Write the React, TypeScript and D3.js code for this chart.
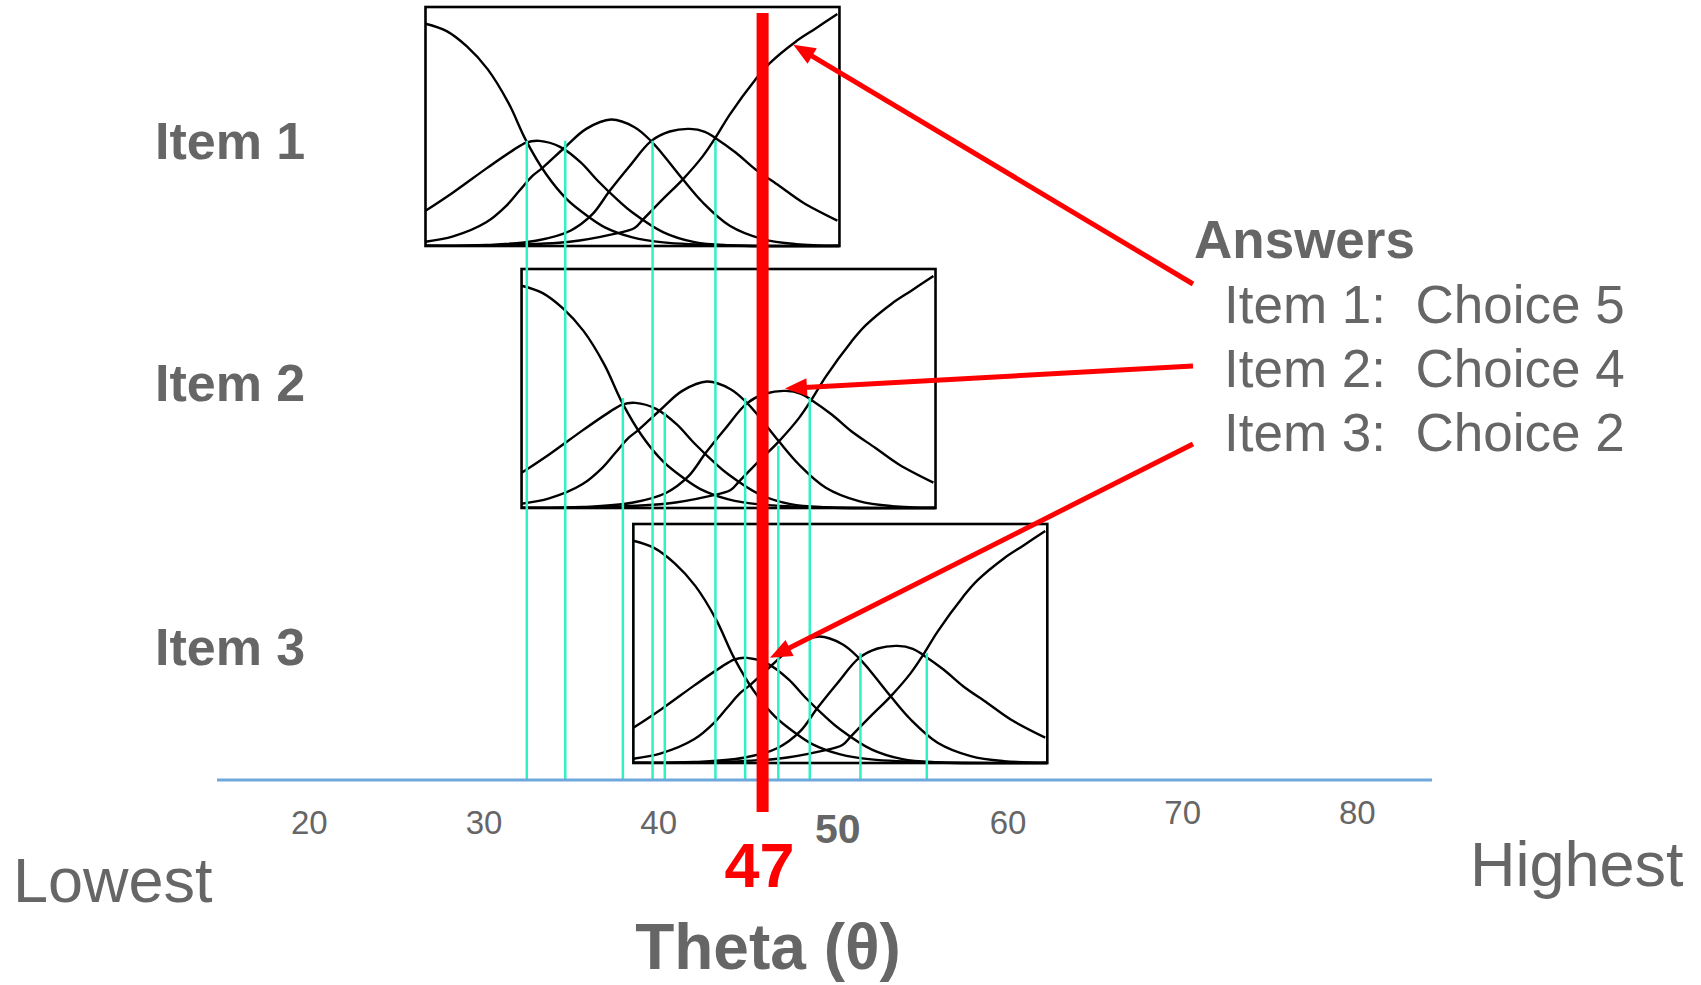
import React from 'react';
import * as d3 from 'd3';

// theta axis
const thetaTicks = [20, 30, 40, 50, 60, 70, 80];
const boldTick = 50;
const thetaHat = 47;

// the three items, and the theta range each little curve panel covers
const itemNames = ['Item 1', 'Item 2', 'Item 3'];
const itemThetaStart = [27.7, 33.2, 39.6];
const itemThetaEnd = [51.4, 56.9, 63.3];

// category response curves inside a panel: [local theta (-3..3), probability]
// (the three panels show the same set of curves)
const choice1 = [[-3, 0.93], [-2.7, 0.9], [-2.4, 0.835], [-2.1, 0.74], [-1.8, 0.6], [-1.54, 0.44], [-1.25, 0.3], [-0.95, 0.195], [-0.65, 0.125], [-0.4, 0.078], [0, 0.036], [0.45, 0.015], [1.4, 0.002], [3, 0]];
const choice2 = [[-3, 0.147], [-2.6, 0.224], [-2.1, 0.328], [-1.75, 0.397], [-1.54, 0.433], [-1.35, 0.44], [-1.05, 0.415], [-0.75, 0.35], [-0.5, 0.272], [-0.2, 0.189], [0, 0.14], [0.45, 0.057], [0.9, 0.016], [1.4, 0.003], [3, 0]];
const choice3 = [[-3, 0.018], [-2.6, 0.04], [-2.12, 0.099], [-1.83, 0.168], [-1.64, 0.231], [-1.45, 0.293], [-1.3, 0.328], [-0.99, 0.41], [-0.67, 0.49], [-0.31, 0.529], [0.03, 0.497], [0.27, 0.439], [0.44, 0.383], [0.73, 0.279], [1.02, 0.182], [1.41, 0.085], [1.89, 0.029], [2.37, 0.008], [3, 0.001]];
const choice4 = [[-3, 0.001], [-2.12, 0.004], [-1.4, 0.022], [-0.9, 0.064], [-0.58, 0.133], [-0.33, 0.231], [-0.04, 0.335], [0.27, 0.439], [0.54, 0.479], [0.83, 0.49], [1.05, 0.478], [1.2, 0.452], [1.5, 0.39], [1.78, 0.321], [2.13, 0.251], [2.47, 0.182], [2.97, 0.106]];
const choice5 = [[-3, 0.001], [-2.12, 0.002], [-0.91, 0.018], [-0.28, 0.05], [0.03, 0.075], [0.15, 0.11], [0.44, 0.196], [0.73, 0.279], [1.02, 0.376], [1.2, 0.452], [1.41, 0.55], [1.78, 0.696], [1.99, 0.765], [2.37, 0.856], [2.66, 0.911], [2.97, 0.971]];
const choiceCurves = [choice1, choice2, choice3, choice4, choice5];

// cut points (cyan lines) in theta, with the probability where each one starts
const item1Cuts = [33.5, 35.7, 40.7, 44.3];
const item1CutTops = [0.44, 0.44, 0.44, 0.44];
const item2Cuts = [39.0, 41.4, 46.0, 47.9, 49.7];
const item2CutTops = [0.46, 0.4, 0.46, 0.26, 0.46];
const item3Cuts = [52.6, 56.4];
const item3CutTops = [0.46, 0.46];

// answers
const answerChoices = [5, 4, 2];
const arrowTipTheta = [48.76, 48.28, 47.42];
const arrowTipP = [0.842, 0.5, 0.44];

const FONT = 'Liberation Sans, Arial, Helvetica, sans-serif';
const GREY = '#666666';

export default function App() {
  const width = 1701;
  const height = 985;
  const axisY = 780;
  const panelTop = [7, 269, 524];
  const panelH = 239;
  const labelY = [159, 401, 665];
  const arrowStartX = 1193;
  const arrowStartY = [284, 366, 444];

  const x = d3.scaleLinear().domain([20, 80]).range([291, 1339]);

  const panels = itemNames.map((name, i) => {
    const px = d3.scaleLinear().domain([-3, 3]).range([x(itemThetaStart[i]), x(itemThetaEnd[i])]);
    const py = d3.scaleLinear().domain([0, 1]).range([panelTop[i] + panelH, panelTop[i]]);
    return { name, px, py };
  });

  const cuts = [
    [item1Cuts, item1CutTops],
    [item2Cuts, item2CutTops],
    [item3Cuts, item3CutTops],
  ];

  const arrows = answerChoices.map((c, i) => {
    const p = panels[i];
    const tx = x(arrowTipTheta[i]);
    const ty = p.py(arrowTipP[i]);
    const sx = arrowStartX;
    const sy = arrowStartY[i];
    const len = Math.hypot(tx - sx, ty - sy);
    const dx = (tx - sx) / len;
    const dy = (ty - sy) / len;
    const L = 22;
    const hw = 9;
    const bx = tx - dx * L;
    const by = ty - dy * L;
    const head = [
      [tx, ty],
      [bx - dy * hw, by + dx * hw],
      [bx + dy * hw, by - dx * hw],
    ];
    return { sx, sy, ex: bx + dx * 2, ey: by + dy * 2, head };
  });

  const redX = x(thetaHat);

  return (
    <svg width={width} height={height} style={{ position: 'absolute', left: 0, top: 0, background: '#fff' }}>
      {panels.map((p, i) => {
        const line = d3
          .line<number[]>()
          .x((d) => p.px(d[0]))
          .y((d) => p.py(Math.max(0, d[1])))
          .curve(d3.curveCatmullRom.alpha(0.5));
        return (
          <g key={p.name}>
            {choiceCurves.map((c, k) => (
              <path key={k} d={line(c) || ''} fill="none" stroke="#000" strokeWidth={2.4} />
            ))}
            <rect
              x={p.px(-3)}
              y={panelTop[i]}
              width={p.px(3) - p.px(-3)}
              height={panelH}
              fill="none"
              stroke="#000"
              strokeWidth={2.6}
            />
            <text x={155} y={labelY[i]} fontFamily={FONT} fontWeight="bold" fontSize={52} fill={GREY}>
              {p.name}
            </text>
          </g>
        );
      })}

      {cuts.map(([vals, tops], i) =>
        vals.map((v, k) => (
          <line
            key={`${i}-${k}`}
            x1={x(v)}
            x2={x(v)}
            y1={panels[i].py(tops[k])}
            y2={axisY}
            stroke="#2EF2C4"
            strokeWidth={2.5}
          />
        ))
      )}

      <line x1={217} x2={1432} y1={axisY} y2={axisY} stroke="#6FA8DC" strokeWidth={3} />

      {thetaTicks.map((t) => {
        const bold = t === boldTick;
        const dy = bold ? 9 : t >= 70 ? -10 : 0;
        return (
          <text
            key={t}
            x={x(t)}
            y={834 + dy}
            fontFamily={FONT}
            fontWeight={bold ? 'bold' : 'normal'}
            fontSize={bold ? 41 : 33}
            fill={GREY}
          >
            {t}
          </text>
        );
      })}

      <line x1={redX} x2={redX} y1={13} y2={812} stroke="#FF0000" strokeWidth={12} />
      <text x={redX - 3} y={887} textAnchor="middle" fontFamily={FONT} fontWeight="bold" fontSize={63} fill="#FF0000">
        {thetaHat}
      </text>

      {arrows.map((a, i) => (
        <g key={i}>
          <line x1={a.sx} y1={a.sy} x2={a.ex} y2={a.ey} stroke="#FF0000" strokeWidth={5} />
          <polygon points={a.head.map((p) => p.join(',')).join(' ')} fill="#FF0000" />
        </g>
      ))}

      <text x={1194} y={258} fontFamily={FONT} fontWeight="bold" fontSize={53} fill={GREY}>
        Answers
      </text>
      {answerChoices.map((c, i) => (
        <text key={i} x={1224} y={323 + i * 64} fontFamily={FONT} fontSize={53} fill={GREY} style={{ whiteSpace: 'pre' }}>
          {`${itemNames[i]}:  Choice ${c}`}
        </text>
      ))}

      <text x={13} y={902} fontFamily={FONT} fontSize={63} fill={GREY}>
        Lowest
      </text>
      <text x={1470} y={886} fontFamily={FONT} fontSize={63} fill={GREY}>
        Highest
      </text>
      <text x={768} y={969} textAnchor="middle" fontFamily={FONT} fontWeight="bold" fontSize={64} fill={GREY}>
        Theta (θ)
      </text>
    </svg>
  );
}
